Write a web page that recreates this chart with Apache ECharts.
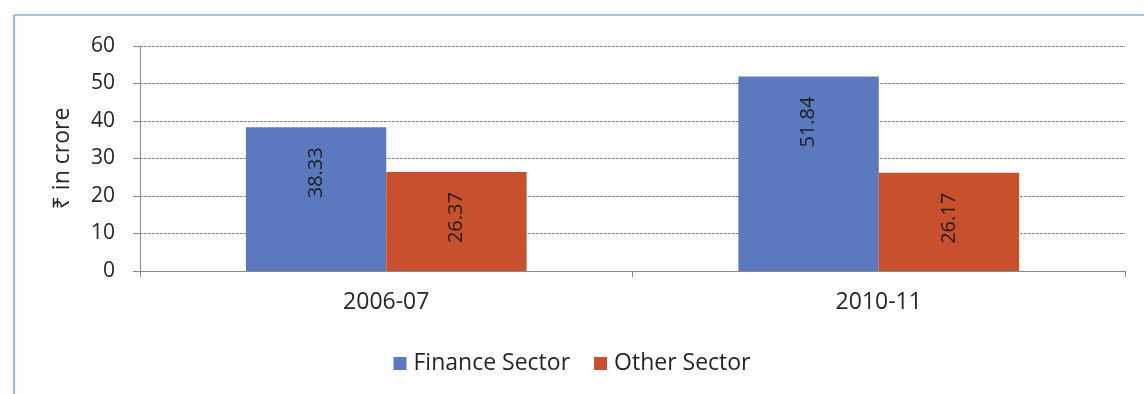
<!DOCTYPE html>
<html>
<head>
<meta charset="utf-8">
<script src="https://cdn.jsdelivr.net/npm/echarts@6/dist/echarts.min.js"></script>
<style>
html,body{margin:0;padding:0;background:#fff;}
#c{width:1144px;height:394px;}
</style>
</head>
<body>
<div id="c"></div>
<script>
var categories = ['2006-07', '2010-11'];
var financeSector = [38.33, 51.84];
var otherSector = [26.37, 26.17];
var seriesNames = ['Finance Sector', 'Other Sector'];
var yAxisName = '₹ in crore';

var FONT = '"Open Sans", "Noto Sans", sans-serif';
var chart = echarts.init(document.getElementById('c'));

function labelCfg() {
  return {
    show: true,
    position: 'insideTop',
    rotate: 90,
    align: 'right',
    verticalAlign: 'middle',
    distance: 20,
    color: '#1e1e1e',
    fontSize: 20,
    fontFamily: FONT,
    formatter: function (p) { return p.value.toFixed(2); }
  };
}

chart.setOption({
  animation: false,
  backgroundColor: '#fff',
  textStyle: { fontFamily: FONT },
  graphic: [
    { type: 'line', shape: { x1: 14, y1: 15, x2: 1144, y2: 15 }, style: { stroke: '#9cc7e6', lineWidth: 2 } },
    { type: 'line', shape: { x1: 14, y1: 15, x2: 14, y2: 394 }, style: { stroke: '#8dbde2', lineWidth: 2 } }
  ],
  grid: { left: 140, right: 19, top: 46, bottom: 123, containLabel: false },
  legend: {
    data: seriesNames,
    left: 'center',
    top: 347,
    itemWidth: 13,
    itemHeight: 13,
    itemGap: 24,
    icon: 'rect',
    textStyle: { fontSize: 23, color: '#262626', fontFamily: FONT, padding: [0, 0, 0, 2] }
  },
  xAxis: {
    type: 'category',
    data: categories,
    axisLine: { lineStyle: { color: '#888', width: 1 } },
    axisTick: { show: true, length: 6, lineStyle: { color: '#888' } },
    axisLabel: { fontSize: 23, color: '#262626', margin: 20, fontFamily: FONT }
  },
  yAxis: {
    type: 'value',
    min: 0,
    max: 60,
    interval: 10,
    name: yAxisName,
    nameLocation: 'middle',
    nameGap: 66,
    nameRotate: 90,
    nameTextStyle: { fontSize: 23, color: '#262626', fontFamily: FONT },
    axisLine: { show: true, lineStyle: { color: '#888' } },
    axisTick: { show: true, length: 7, lineStyle: { color: '#888' } },
    axisLabel: { fontSize: 21, color: '#262626', margin: 25, fontFamily: FONT },
    splitLine: { show: true, lineStyle: { color: '#8a8a8a', type: [3, 1], width: 1 } }
  },
  series: [
    {
      name: seriesNames[0],
      type: 'bar',
      data: financeSector,
      barGap: '0%',
      barCategoryGap: '43%',
      itemStyle: { color: '#5b79bf' },
      label: labelCfg()
    },
    {
      name: seriesNames[1],
      type: 'bar',
      data: otherSector,
      itemStyle: { color: '#c8502c' },
      label: labelCfg()
    }
  ]
});
</script>
</body>
</html>
